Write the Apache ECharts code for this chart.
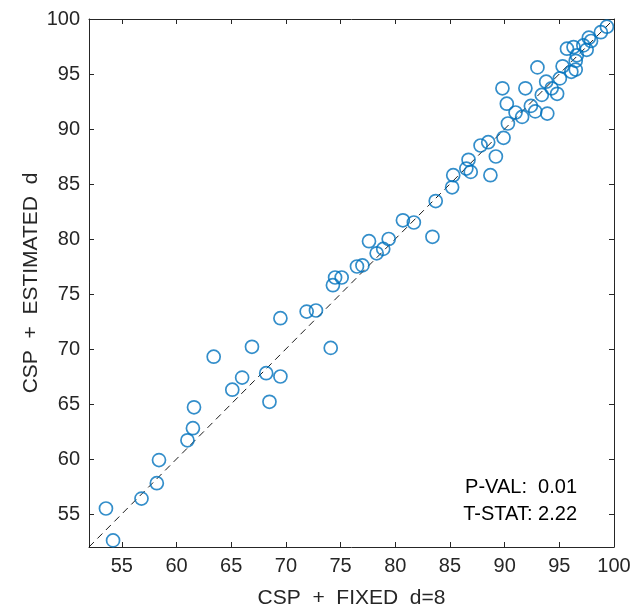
<!DOCTYPE html>
<html>
<head>
<meta charset="utf-8">
<script src="https://cdn.jsdelivr.net/npm/echarts@6/dist/echarts.min.js"></script>
<style>
  html, body { margin: 0; padding: 0; background: #fff; }
  #main { width: 635px; height: 615px; }
</style>
</head>
<body>
<div id="main"></div>
<script>
// 数据：横轴 CSP + FIXED d=8，纵轴 CSP + ESTIMATED d
var fixedD = [53.55, 54.2, 56.8, 58.2, 58.4, 61.0, 61.5, 61.6, 63.4, 65.1, 66.0, 66.9, 68.2, 68.5, 69.5, 69.5,
  71.9, 72.75, 74.1, 74.3, 74.5, 75.1, 76.5, 77.0, 77.6, 78.3, 78.9, 79.4, 80.7, 81.7, 83.4, 83.7,
  85.2, 85.3, 86.5, 86.7, 86.9, 87.8, 88.5, 88.7, 89.2, 89.8, 89.9, 90.2, 90.3, 91.0, 91.6, 91.9,
  92.4, 92.8, 93.0, 93.4, 93.8, 93.9, 94.3, 94.8, 95.05, 95.3, 95.7, 96.1, 96.3, 96.5, 96.6, 97.2,
  97.5, 97.9, 98.8, 99.35, 97.7, 96.5];
var estimatedD = [55.5, 52.6, 56.4, 57.8, 59.9, 61.7, 62.8, 64.7, 69.3, 66.3, 67.4, 70.2, 67.8, 65.2, 67.5, 72.8,
  73.4, 73.5, 70.1, 75.8, 76.5, 76.5, 77.5, 77.6, 79.8, 78.7, 79.1, 80.0, 81.7, 81.5, 80.2, 83.45,
  84.7, 85.8, 86.4, 87.2, 86.1, 88.5, 88.8, 85.8, 87.5, 93.7, 89.2, 92.3, 90.5, 91.5, 91.1, 93.7,
  92.1, 91.6, 95.6, 93.1, 94.3, 91.4, 93.7, 93.2, 94.6, 95.7, 97.3, 95.2, 97.45, 96.2, 96.7, 97.6,
  97.2, 98.0, 98.8, 99.3, 98.3, 95.4];
var tickValues = [55, 60, 65, 70, 75, 80, 85, 90, 95, 100];
var diagonal = [[52, 52], [100, 100]];
var pVal = '0.01';
var tStat = '2.22';

var points = [];
for (var i = 0; i < fixedD.length; i++) {
  points.push([fixedD[i], estimatedD[i]]);
}

var font = 'Liberation Sans, Arial, sans-serif';
var axisColor = '#262626';

function makeAxis(pos, main) {
  return {
    type: 'value',
    position: pos,
    min: 52,
    max: 100,
    splitLine: { show: false },
    axisLine: { show: true, onZero: false, lineStyle: { color: axisColor, width: 1 } },
    axisTick: { show: true, inside: true, length: 5, customValues: tickValues,
      lineStyle: { color: axisColor, width: 1 } },
    axisLabel: { show: main, customValues: tickValues, color: axisColor,
      fontFamily: font, fontSize: 20, margin: 9 }
  };
}

var xMain = makeAxis('bottom', true);
xMain.name = 'CSP  +  FIXED  d=8';
xMain.nameLocation = 'middle';
xMain.nameGap = 41;
xMain.nameTextStyle = { color: axisColor, fontFamily: font, fontSize: 21 };

var yMain = makeAxis('left', true);
yMain.name = 'CSP  +  ESTIMATED  d';
yMain.nameLocation = 'middle';
yMain.nameGap = 47;
yMain.nameMoveOverlap = false;
yMain.nameTextStyle = { color: axisColor, fontFamily: font, fontSize: 21 };

var myChart = echarts.init(document.getElementById('main'));
myChart.setOption({
  animation: false,
  backgroundColor: '#fff',
  grid: { left: 89, right: 21, top: 19, bottom: 68 },
  xAxis: [xMain, makeAxis('top', false)],
  yAxis: [yMain, makeAxis('right', false)],
  graphic: [
    { type: 'text', right: 58, top: 477,
      style: { text: 'P-VAL:  ' + pVal, fill: '#000', font: '20px ' + font, textAlign: 'right' } },
    { type: 'text', right: 58, top: 504,
      style: { text: 'T-STAT: ' + tStat, fill: '#000', font: '20px ' + font, textAlign: 'right' } }
  ],
  series: [
    {
      type: 'line',
      data: diagonal,
      symbol: 'none',
      silent: true,
      lineStyle: { color: '#000', width: 0.9, type: [7, 5] },
      z: 1
    },
    {
      type: 'scatter',
      data: points,
      symbol: 'circle',
      symbolSize: 13,
      itemStyle: { color: 'rgba(0,0,0,0)', borderColor: '#0072BD', borderWidth: 1.7 },
      z: 2
    }
  ]
});
</script>
</body>
</html>
